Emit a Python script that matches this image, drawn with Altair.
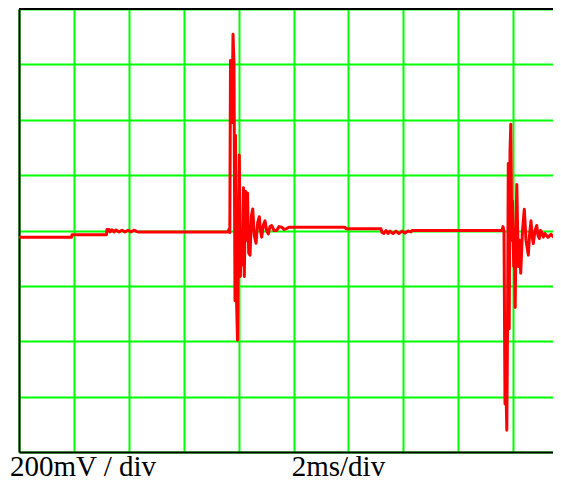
import altair as alt
import pandas as pd

# Oscilloscope trace: time in ms (2 ms/div), voltage in mV (200 mV/div)
pre_t = [0, 1.913, 1.931, 3.188, 3.206, 3.279, 3.315, 3.388, 3.461, 3.534, 3.643, 3.752,
         3.862, 3.971, 4.080, 4.189, 4.299, 4.335]
pre_v = [-24, -24, -15, -15, 4, 4, -5, 2, -5, 2, -5, 1, -5, 1, -5, 1, -4, -5]

burst1_t = [7.614, 7.650, 7.680, 7.705, 7.741, 7.760, 7.796, 7.832, 7.869, 7.887, 7.916,
            7.960, 7.989, 8.026, 8.062, 8.106, 8.142, 8.178, 8.208, 8.251, 8.288, 8.324,
            8.368, 8.415, 8.470, 8.514, 8.572, 8.634, 8.696, 8.754, 8.798, 8.842, 8.907,
            8.962, 9.024, 9.082, 9.144, 9.206, 9.290, 9.388, 9.472, 9.570, 9.654, 9.752, 9.836]
burst1_v = [-5, 4, -7, 614, 567, 390, 709, 603, -254, 344, -213, -396, -71, 273, -166, -35,
            -124, 154, -166, 142, -35, 135, -82, -89, 53, 78, -18, -46, 28, 50, 0, -24, 21,
            35, 0, -12, 14, 18, 0, 0, 14, 12, 4, 7, 12]

mid_t = [11.876, 11.913, 13.188, 13.224, 13.297, 13.370, 13.443, 13.516, 13.625, 13.734,
         13.843, 13.953, 14.062, 14.171, 14.280, 14.317]
mid_v = [12, 6, 6, -7, -11, 0, -11, -2, -11, -2, -11, -2, -9, -2, -5, 0]

burst2_t = [17.596, 17.632, 17.669, 17.705, 17.734, 17.771, 17.796, 17.825, 17.858, 17.887,
            17.916, 17.953, 17.978, 18.022, 18.051, 18.076, 18.106, 18.135, 18.189, 18.233,
            18.277, 18.342, 18.408, 18.470, 18.554, 18.598, 18.652, 18.689, 18.736, 18.798,
            18.860, 18.907, 18.955, 18.998, 19.042, 19.100, 19.162, 19.271, 19.381, 19.490,
            19.599, 19.745]
burst2_v = [0, 14, -4, -627, -532, -721, -355, 242, -355, 284, 384, -35, 106, -130, -71, -278,
            0, 166, -130, -35, -154, 0, 77, -35, -89, -18, 35, -18, -47, 0, 18, -18, -29, 0,
            -6, -24, -11, -25, -14, -25, -18, -23]

x_grid = [0, 2, 4, 6, 8, 10, 12, 14, 16, 18]
y_grid = [-800, -600, -400, -200, 0, 200, 400, 600, 800]
label_volt = "200mV / div"
label_time = "2ms/div"

t = pre_t + burst1_t + mid_t + burst2_t
v = pre_v + burst1_v + mid_v + burst2_v
df = pd.DataFrame({"t": t, "v": v, "i": list(range(len(t)))})

W = 534
H = 443
X_MAX = W / 54.9 * 2  # 2 ms per 54.9 px division
GREEN = "#00ff00"

x_enc = alt.X("t:Q",
              scale=alt.Scale(domain=[0, X_MAX], nice=False, zero=False),
              axis=alt.Axis(values=x_grid, grid=True, gridColor=GREEN, gridWidth=2,
                            gridOpacity=1, domain=True, domainColor="black",
                            domainWidth=2, ticks=False, labels=False, title=None))
y_enc = alt.Y("v:Q",
              scale=alt.Scale(domain=[-800, 800], nice=False, zero=False),
              axis=alt.Axis(values=y_grid, grid=True, gridColor=GREEN, gridWidth=2,
                            gridOpacity=1, domain=True, domainColor="black",
                            domainWidth=2, ticks=False, labels=False, title=None))

trace = alt.Chart(df).mark_line(color="#ff0000", strokeWidth=3, strokeJoin="round",
                                clip=True).encode(x=x_enc, y=y_enc, order="i:Q")

one = pd.DataFrame({"a": [0]})
top_border = alt.Chart(one).mark_rule(color="black", strokeWidth=2).encode(
    x=alt.value(0), x2=alt.value(W), y=alt.value(0))

txt_v = alt.Chart(pd.DataFrame({"label": [label_volt]})).mark_text(
    font="Liberation Serif", fontSize=29, color="black", align="left",
    baseline="alphabetic").encode(text="label:N", x=alt.value(-9), y=alt.value(467))
txt_t = alt.Chart(pd.DataFrame({"label": [label_time]})).mark_text(
    font="Liberation Serif", fontSize=29, color="black", align="left",
    baseline="alphabetic").encode(text="label:N", x=alt.value(272.7), y=alt.value(467))

chart = alt.layer(trace, top_border, txt_v, txt_t).properties(
    width=W, height=H,
    padding={"left": 11, "top": 1, "right": 0, "bottom": 31},
    autosize=alt.AutoSizeParams(type="none"),
    background="white",
).configure_view(stroke=None)

chart.save("out.html", embed_options={"renderer": "svg", "actions": False})
